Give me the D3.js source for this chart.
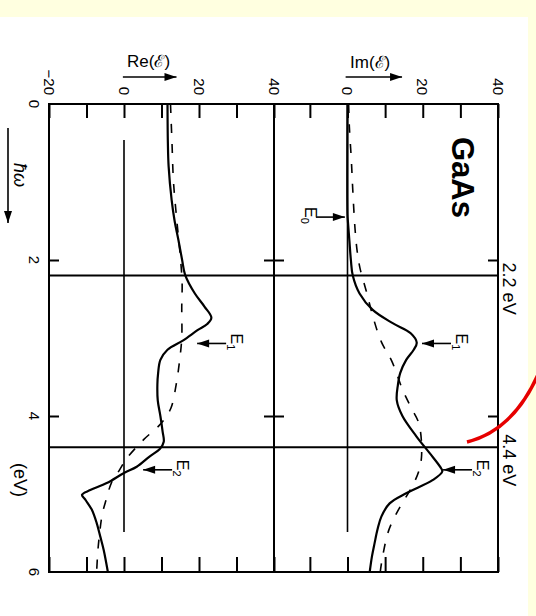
<!DOCTYPE html>
<html><head><meta charset="utf-8">
<script src="https://cdn.jsdelivr.net/npm/d3@7"></script>
<style>html,body{margin:0;padding:0;background:#ffffe0;} svg{display:block}</style>
</head><body>
<svg id="c" width="536" height="616"></svg>
<script>
// ---- data (energy in eV, dielectric function values) ----
const energyTicks = [0, 2, 4, 6];
const energyLabels = ["0", "2", "4", "6"];
const reTicks = [-20, -10, 0, 10, 20, 30, 40];
const reLabeled = [-20, 0, 20, 40];
const reLabels = ["\u221220", "0", "20", "40"];
const imTicks = [-10, 0, 10, 20, 30, 40];
const imLabeled = [0, 20, 40];
const imLabels = ["0", "20", "40"];
const markerEnergies = [2.2, 4.4];
const markerLabels = ["2.2 eV", "4.4 eV"];

const imMeasured = [[0,0],[1.42,0],[1.5,0.1],[1.75,0.5],[2.0,0.9],[2.2,1.4],[2.43,3.2],[2.64,6.7],[2.81,12],[2.94,16.8],[3.06,18.4],[3.15,17.6],[3.28,15.6],[3.45,14.0],[3.6,13.4],[3.8,13.1],[4.0,14.6],[4.26,18.3],[4.48,21.9],[4.65,24.6],[4.71,25.2],[4.82,22.7],[4.99,15.6],[5.12,11.2],[5.29,9.0],[5.45,8.0],[5.63,7.2],[5.8,6.5],[6.0,5.9]];
const imTheory = [[0,0.3],[0.3,0.5],[0.7,1.0],[1.1,1.4],[1.6,2.0],[1.9,2.6],[2.1,3.3],[2.4,5.0],[2.75,6.9],[3.05,9.0],[3.3,11.8],[3.67,14.7],[3.9,17.0],[4.1,19.0],[4.5,19.7],[4.7,19.0],[4.92,17.0],[5.17,13.9],[5.46,11.0],[5.81,9.3],[6.0,8.7]];
const reMeasured = [[0,11.6],[0.5,11.7],[0.8,11.9],[1.23,12.7],[1.5,13.5],[1.74,14.5],[2.0,15.5],[2.19,16.3],[2.43,18.9],[2.6,21.5],[2.74,23.3],[2.82,22.2],[2.9,19.6],[3.03,15.8],[3.15,11.6],[3.28,9.7],[3.45,9.1],[3.6,8.9],[3.8,9.0],[4.0,9.7],[4.2,10.3],[4.33,10.6],[4.42,9.6],[4.52,6.8],[4.65,3.4],[4.73,0],[4.86,-4.6],[4.95,-9],[5.01,-11.2],[5.08,-10.2],[5.2,-8.6],[5.37,-7.3],[5.55,-6.3],[5.72,-5.4],[6.0,-4.3]];
const reTheory = [[0,12.4],[0.5,12.8],[1.0,13.2],[1.5,14.1],[2.0,15.1],[2.3,15.5],[2.6,15.4],[3.0,15.4],[3.3,14.8],[3.6,13.9],[3.9,12.5],[4.1,9.8],[4.3,5.3],[4.54,0.8],[4.7,-1.3],[4.85,-3.3],[5.08,-4.8],[5.26,-5.8],[5.5,-6.5],[5.75,-7.0],[6.0,-7.3]];

// annotations: panel, energy, value at arrow tip, label, subscript, direction (+1 = label to the right)
const annotations = [
  {panel:"im", energy:1.45, value:-0.7, label:"E", sub:"0", dir:-1},
  {panel:"im", energy:3.07, value:19.8, label:"E", sub:"1", dir:1},
  {panel:"im", energy:4.69, value:25.4, label:"E", sub:"2", dir:1},
  {panel:"re", energy:3.07, value:19.5, label:"E", sub:"1", dir:1},
  {panel:"re", energy:4.69, value:5.1, label:"E", sub:"2", dir:1}
];

// ---- drawing ----
const svg = d3.select("#c");
const FONT = "'Liberation Sans', Arial, sans-serif";
svg.append("rect").attr("width",536).attr("height",616).attr("fill","#ffffe0");
svg.append("rect").attr("x",0).attr("y",17).attr("width",528).attr("height",599).attr("fill","#ffffff");

const yE = d3.scaleLinear().domain([0,6]).range([104,572]);
const xRe = d3.scaleLinear().domain([-20,40]).range([49,274]);
const xIm = d3.scaleLinear().domain([0,40]).range([347.5,498]);

const fTop = yE(0), fBottom = yE(6), fLeft = xRe(-20), fRight = xIm(40);

// axes (ticks inside)
function styleAxis(g){
  g.select(".domain").remove();
  g.selectAll(".tick line").attr("stroke","#000").attr("stroke-width",2);
  g.selectAll(".tick text").remove();
}
svg.append("g").attr("transform",`translate(0,${fTop})`)
  .call(d3.axisTop(xRe).tickValues(reTicks).tickSize(-14)).call(styleAxis);
svg.append("g").attr("transform",`translate(0,${fTop})`)
  .call(d3.axisTop(xIm).tickValues(imTicks).tickSize(-14)).call(styleAxis);
svg.append("g").attr("transform",`translate(0,${fBottom})`)
  .call(d3.axisBottom(xRe).tickValues(reTicks).tickSize(-15)).call(styleAxis);
svg.append("g").attr("transform",`translate(0,${fBottom})`)
  .call(d3.axisBottom(xIm).tickValues(imTicks).tickSize(-15)).call(styleAxis);
svg.append("g").attr("transform",`translate(${fLeft},0)`)
  .call(d3.axisLeft(yE).tickValues([2,4]).tickSize(-10)).call(styleAxis);
svg.append("g").attr("transform",`translate(${fRight},0)`)
  .call(d3.axisRight(yE).tickValues([2,4]).tickSize(-10)).call(styleAxis);
svg.append("g").attr("transform",`translate(${xRe(40)-10},0)`)
  .call(d3.axisLeft(yE).tickValues([2,4]).tickSize(-20)).call(styleAxis);

// rotated text helper (figure is turned by 90 degrees)
function rtext(x, y, txt, opts){
  opts = opts || {};
  return svg.append("text").attr("transform",`translate(${x},${y}) rotate(90)`)
    .attr("text-anchor",opts.anchor||"middle")
    .attr("dominant-baseline",opts.baseline||"central")
    .attr("font-family",FONT).attr("font-size",opts.size||15)
    .attr("font-weight",opts.weight||"normal")
    .attr("font-style",opts.style||"normal")
    .attr("fill","#000").text(txt);
}
reLabeled.forEach((v,i)=> rtext(xRe(v), fTop-9, reLabels[i], {anchor:"end"}));
imLabeled.forEach((v,i)=> rtext(xIm(v), fTop-9, imLabels[i], {anchor:"end"}));
energyTicks.forEach((e,i)=> rtext(fLeft-15, yE(e), energyLabels[i], {size:15}));

// frame and guide lines
svg.append("rect").attr("x",fLeft).attr("y",fTop).attr("width",fRight-fLeft).attr("height",fBottom-fTop)
  .attr("fill","none").attr("stroke","#000").attr("stroke-width",2);
markerEnergies.forEach((e,i)=>{
  svg.append("line").attr("x1",fLeft).attr("x2",fRight).attr("y1",yE(e)).attr("y2",yE(e))
    .attr("stroke","#000").attr("stroke-width",2);
  rtext(fRight+5, yE(e)-13, markerLabels[i], {anchor:"start", baseline:"alphabetic", size:18});
});
svg.append("line").attr("x1",xRe(40)).attr("x2",xRe(40)).attr("y1",fTop).attr("y2",fBottom)
  .attr("stroke","#000").attr("stroke-width",2);
svg.append("line").attr("x1",xRe(0)).attr("x2",xRe(0)).attr("y1",fTop+36).attr("y2",fBottom-40)
  .attr("stroke","#000").attr("stroke-width",1.6);
svg.append("line").attr("x1",xIm(0)).attr("x2",xIm(0)).attr("y1",fTop).attr("y2",fBottom-40)
  .attr("stroke","#000").attr("stroke-width",1.6);

// curves
const lineRe = d3.line().x(d=>xRe(d[1])).y(d=>yE(d[0])).curve(d3.curveCatmullRom.alpha(0.5));
const lineIm = d3.line().x(d=>xIm(d[1])).y(d=>yE(d[0])).curve(d3.curveCatmullRom.alpha(0.5));
svg.append("path").attr("d",lineRe(reTheory)).attr("fill","none").attr("stroke","#000")
  .attr("stroke-width",1.6).attr("stroke-dasharray","9,11");
svg.append("path").attr("d",lineIm(imTheory)).attr("fill","none").attr("stroke","#000")
  .attr("stroke-width",1.6).attr("stroke-dasharray","9,11");
svg.append("path").attr("d",lineRe(reMeasured)).attr("fill","none").attr("stroke","#000").attr("stroke-width",2.2);
svg.append("path").attr("d",lineIm(imMeasured)).attr("fill","none").attr("stroke","#000").attr("stroke-width",2.2);

// arrow helper
function arrow(x1,y1,x2,y2){
  svg.append("line").attr("x1",x1).attr("y1",y1).attr("x2",x2).attr("y2",y2)
    .attr("stroke","#000").attr("stroke-width",1.6);
  const a = Math.atan2(y2-y1,x2-x1), L=12, W=4;
  const bx = x2 - L*Math.cos(a), by = y2 - L*Math.sin(a);
  const px = -Math.sin(a)*W, py = Math.cos(a)*W;
  svg.append("path").attr("d",`M${x2},${y2}L${bx+px},${by+py}L${bx-px},${by-py}Z`).attr("fill","#000");
}

// annotations
annotations.forEach(a=>{
  const sx = a.panel==="re" ? xRe : xIm;
  const tipX = sx(a.value), y = yE(a.energy);
  const tailX = tipX + a.dir*29;
  arrow(tailX, y, tipX, y);
  const bx = a.dir>0 ? tailX+5 : tailX-11;
  const t = svg.append("text").attr("transform",`translate(${bx},${y-10}) rotate(90)`)
    .attr("font-family",FONT).attr("font-size",16).attr("fill","#000");
  t.append("tspan").text(a.label);
  t.append("tspan").attr("dy","0.35em").attr("font-size",11).text(a.sub);
});

// axis titles
svg.append("text").attr("x",127).attr("y",67).attr("font-family",FONT).attr("font-size",17).text("Re(\u2130)");
svg.append("text").attr("x",350).attr("y",68).attr("font-family",FONT).attr("font-size",17).text("Im(\u2130)");
arrow(xRe(-0.3),77,xRe(14),77);
arrow(xIm(-0.5),77,xIm(14.5),77);

rtext(452, 137, "GaAs", {anchor:"start", baseline:"alphabetic", size:31, weight:"bold"});
rtext(20, 175, "\u0127\u03c9", {size:18, style:"italic"});
arrow(8,128,8,223);
rtext(20, 480, "(eV)", {size:18});

// red annotation stroke
svg.append("path").attr("d","M467,442 Q515,430 540,370").attr("fill","none")
  .attr("stroke","#e60000").attr("stroke-width",3.5);
</script>
</body></html>
